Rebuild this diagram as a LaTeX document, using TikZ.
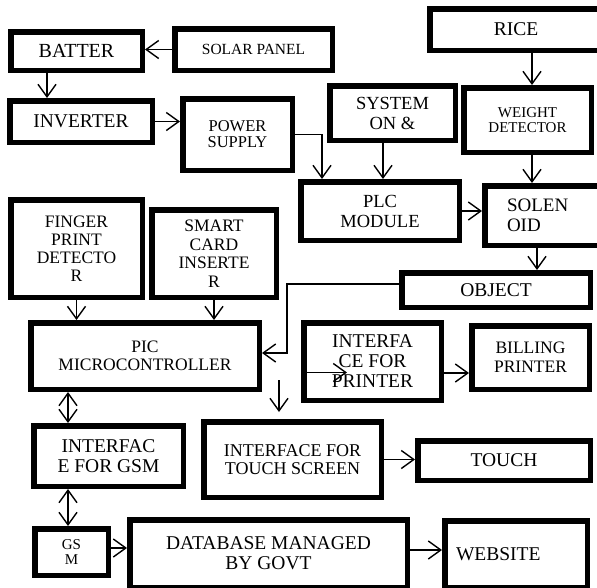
\documentclass[tikz,border=0pt]{standalone}
\usepackage{fontspec}
\setmainfont{Liberation Serif}
\usepackage{tikz}
\usetikzlibrary{arrows.meta,calc,positioning}
\newcommand{\fs}[2]{\fontsize{#1}{#2}\selectfont}

\tikzset{
  blk/.style={draw, line width=5.5pt, inner sep=0pt, align=center},
  arr/.style={->, line width=1.4pt},
  dbl/.style={<->, line width=1.4pt}
}

\begin{document}
\begin{tikzpicture}[x=1pt,y=-1pt,>={Straight Barb[length=12.5pt,width=18pt]}]
  \useasboundingbox (0,0) rectangle (597,587);
  % power side
  \node[blk, minimum width=131.5, minimum height=38.5, font=\fs{20}{20}] (batter) at (76.5,51) {BATTER};
  \node[blk, minimum width=157.5, minimum height=41.5, font=\fs{15.5}{16}] (solar) at (253.5,49.5) {SOLAR PANEL};
  \node[blk, minimum width=142.5, minimum height=41.5, font=\fs{19.5}{20}] (inverter) at (81,121.5) {INVERTER};
  \node[blk, minimum width=109.5, minimum height=71.5, font=\fs{16.5}{16}] (power) at (237.5,134.5) {POWER\\SUPPLY};
  \node[blk, minimum width=125.5, minimum height=54.5, font=\fs{18.5}{20}] (system) at (392.5,113) {SYSTEM\\ON \&};
  \node[blk, minimum width=158.5, minimum height=58.5, font=\fs{18.5}{20}] (plc) at (380,211) {PLC\\MODULE};
  % rice side
  \node[blk, minimum width=172.5, minimum height=41.5, font=\fs{19.5}{20}] (rice) at (516,29.5) {RICE};
  \node[blk, minimum width=127.5, minimum height=64.5, font=\fs{15}{15.5}] (weight) at (527.5,120) {WEIGHT\\DETECTOR};
  \node[blk, minimum width=117.5, minimum height=59.5, font=\fs{19}{20}, text width=73pt, align=left] (solenoid) at (543.5,215.5) {SOLEN\\OID};
  \node[blk, minimum width=188.5, minimum height=34.5, font=\fs{19.5}{20}] (object) at (496,290) {OBJECT};
  % controller
  \node[blk, minimum width=131.5, minimum height=97.5, font=\fs{17.5}{18}] (finger) at (76.5,248.5) {FINGER\\PRINT\\DETECTO\\R};
  \node[blk, minimum width=124.5, minimum height=87.5, font=\fs{17.5}{18.5}] (smart) at (214,253.5) {SMART\\CARD\\INSERTE\\R};
  \node[blk, minimum width=228.5, minimum height=66.5, font=\fs{17.5}{18}] (pic) at (145,356) {PIC\\MICROCONTROLLER};
  \node[blk, minimum width=137.5, minimum height=77.5, font=\fs{19.5}{20}] (ifprinter) at (372.5,361.5) {INTERFA\\CE FOR\\PRINTER};
  \node[blk, minimum width=117.5, minimum height=63.5, font=\fs{17.5}{19}] (billing) at (530.5,357.5) {BILLING\\PRINTER};
  \node[blk, minimum width=177.5, minimum height=75.5, font=\fs{18}{18}] (iftouch) at (292.5,459.5) {INTERFACE FOR\\TOUCH SCREEN};
  \node[blk, minimum width=172.5, minimum height=39.5, font=\fs{19.5}{20}] (touch) at (504,460.5) {TOUCH};
  % gsm side
  \node[blk, minimum width=149.5, minimum height=60.5, font=\fs{19.5}{20}] (ifgsm) at (108.5,456) {INTERFAC\\E FOR GSM};
  \node[blk, minimum width=73.5, minimum height=46.5, font=\fs{15}{15}] (gsm) at (71.5,552) {GS\\M};
  \node[blk, minimum width=277.5, minimum height=67.5, font=\fs{19.5}{20}] (database) at (268.5,553.5) {DATABASE MANAGED\\BY GOVT};
  \node[blk, minimum width=142.5, minimum height=66.5, font=\fs{19.5}{20}, text width=120pt, align=left] (website) at (516,554) {WEBSITE};
  \coordinate (tstart) at (279,380);

  % connectors
  \draw[arr] (solar.west) -- (solar.west -| batter.east);
  \draw[arr] ([xshift=-29.5pt]batter.south) -- ([xshift=-29.5pt]batter.south |- inverter.north);
  \draw[arr] (inverter.east) -- (inverter.east -| power.west);
  \draw[arr] (power.east) -| ([xshift=-58pt]plc.north);
  \draw[arr] ([xshift=-9.5pt]system.south) -- ([xshift=-9.5pt]system.south |- plc.north);
  \draw[arr] ([xshift=4.5pt]weight.north |- rice.south) -- ([xshift=4.5pt]weight.north);
  \draw[arr] ([xshift=4.5pt]weight.south) -- ([xshift=4.5pt]weight.south |- solenoid.north);
  \draw[arr] (plc.east) -- (plc.east -| solenoid.west);
  \draw[arr] ([xshift=-6.5pt]solenoid.south) -- ([xshift=-6.5pt]solenoid.south |- object.north);
  \draw[arr] ([yshift=6pt]object.west) -| ([xshift=25pt,yshift=3pt]pic.east) -- ([yshift=3pt]pic.east);
  \draw[arr] (finger.south) -- (finger.south |- pic.north);
  \draw[arr] (smart.south) -- (smart.south |- pic.north);
  \draw[arr] ([yshift=-11pt]ifprinter.west) -- ++(46,0);
  \draw[arr] ([yshift=-11.5pt]ifprinter.east) -- ([yshift=-11.5pt]ifprinter.east -| billing.west);
  \draw[arr, shorten >=7pt] (tstart) -- (tstart |- iftouch.north);
  \draw[arr] (iftouch.east) -- (iftouch.east -| touch.west);
  \draw[dbl] ([xshift=-40.5pt]ifgsm.north |- pic.south) -- ([xshift=-40.5pt]ifgsm.north);
  \draw[dbl] ([xshift=-40.5pt]ifgsm.south) -- ([xshift=-40.5pt]ifgsm.south |- gsm.north);
  \draw[arr] ([yshift=4pt]gsm.east) -- ([yshift=4pt]gsm.east -| database.west);
  \draw[arr] ([yshift=3.5pt]database.east) -- ([yshift=3.5pt]database.east -| website.west);
\end{tikzpicture}
\end{document}
